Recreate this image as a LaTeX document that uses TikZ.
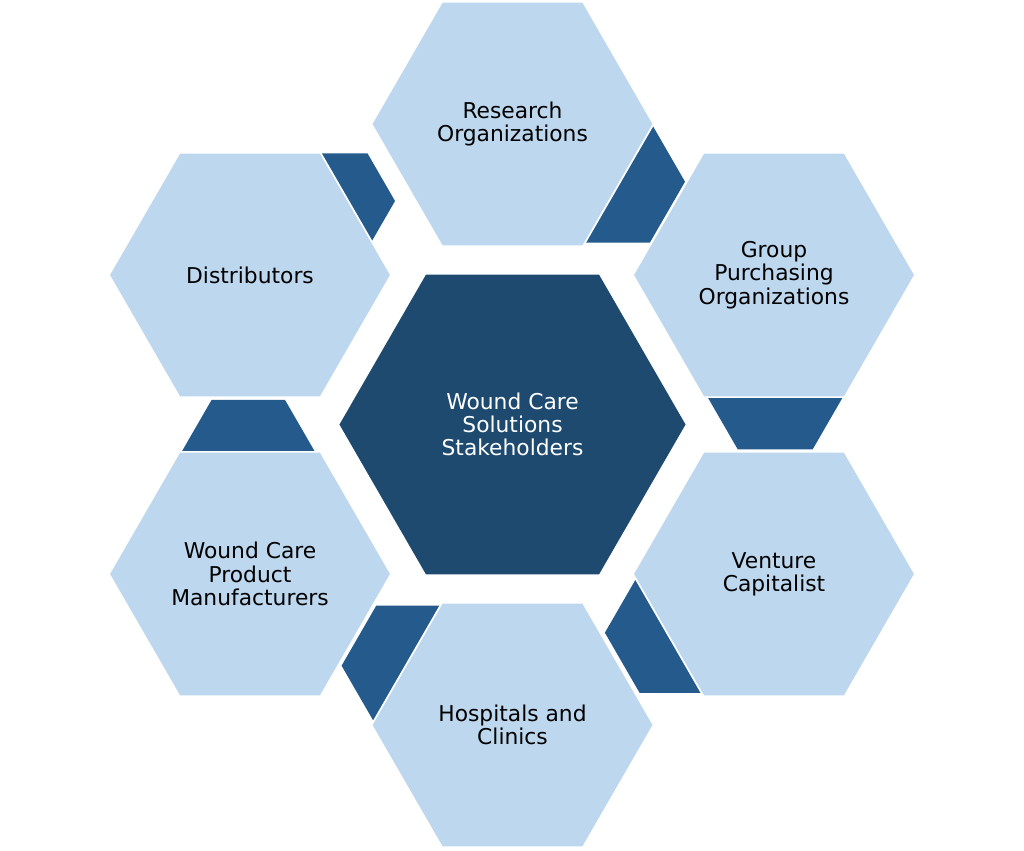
\documentclass[tikz,border=0pt]{standalone}
\usepackage{fontspec}
\setmainfont{DejaVu Sans}
\usepackage{xcolor}
\usepackage{tikz}
\usetikzlibrary{shapes.geometric}
\definecolor{hexLight}{HTML}{BDD7EE}
\definecolor{hexCore}{HTML}{1F4A70}
\definecolor{hexLink}{HTML}{245A8C}

\begin{document}
\begin{tikzpicture}[x=0.025cm, y=-0.025cm,
    stakeholder/.style={regular polygon, regular polygon sides=6, minimum size=7.05cm, inner sep=0pt,
                  fill=hexLight, draw=white, line width=1.2pt, align=center, text=black,
                  font=\fontsize{15.5}{16.5}\selectfont},
    core/.style={stakeholder, minimum size=8.65cm, fill=hexCore, draw=none, text=white},
    link/.style={regular polygon, regular polygon sides=6, inner sep=0pt, fill=hexLink},
]
\useasboundingbox (0,0) rectangle (1024,850);

% Dark links, partly hidden behind the ring
\node[link, minimum size=3.52cm] (linkRG) at (614.6,181.7) {};
\node[link, minimum size=3.75cm] (linkGV) at (775.2,384.3) {};
\node[link, minimum size=3.47cm] (linkVH) at (674.3,632.7) {};
\node[link, minimum size=3.47cm] (linkHW) at (411,665.7) {};
\node[link, minimum size=3.67cm] (linkWD) at (248.3,463.5) {};
\node[link, minimum size=2.75cm] (linkDR) at (340,201) {};

% Outer ring
\node[stakeholder] (research) at (512.5,124) {Research\\Organizations};
\node[stakeholder] (gpo) at (774,275) {Group\\Purchasing\\Organizations};
\node[stakeholder] (venture) at (774,574) {Venture\\Capitalist};
\node[stakeholder] (hospitals) at (512.5,725) {Hospitals and\\Clinics};
\node[stakeholder] (makers) at (250,574) {Wound Care\\Product\\Manufacturers};
\node[stakeholder] (distributors) at (250,275) {Distributors};

% Centre
\node[core] (hub) at (512.5,424.5) {Wound Care\\Solutions\\Stakeholders};
\end{tikzpicture}
\end{document}
